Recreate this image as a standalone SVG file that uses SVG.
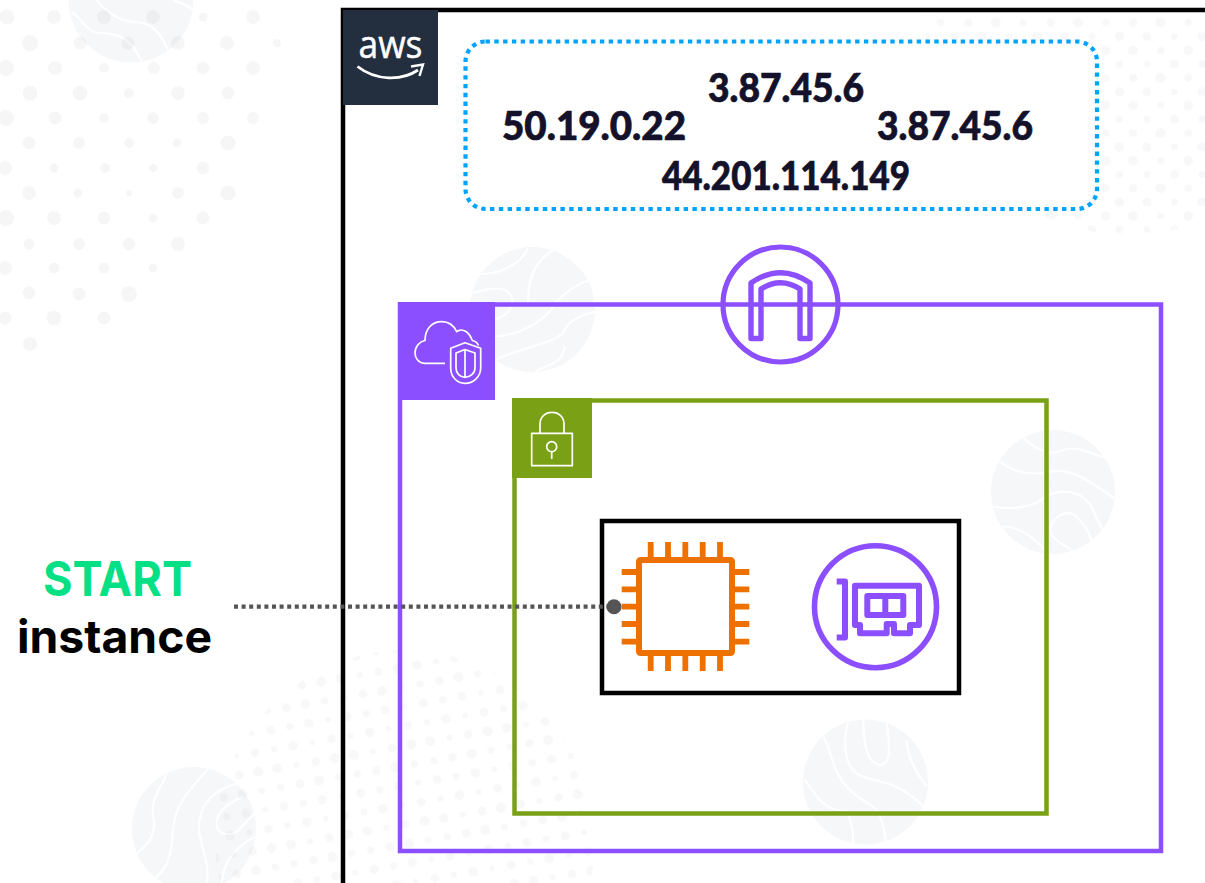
<svg xmlns="http://www.w3.org/2000/svg" width="1205" height="883" viewBox="0 0 1205 883">
<style>
.blob{fill:#f6f7f9}
.wave{fill:none;stroke:#fff;stroke-width:6.500}
.d{fill:#000;fill-opacity:.034}
.e{fill:#000;fill-opacity:.028}
.ip{font-family:"Lato","Liberation Sans",sans-serif;font-weight:900;font-size:40px;fill:#14112a;stroke:#14112a;stroke-width:.7;text-anchor:middle}
.lbl{font-family:"Inter","Liberation Sans",sans-serif;font-weight:700;text-anchor:middle}
.box{fill:none;stroke-width:4.500}
.ico{fill:none;stroke:#fff;stroke-width:1.700;stroke-linejoin:round}
.pin{stroke:#ed7100;stroke-width:5.800;fill:none}
.pur{fill:none;stroke:#8c4fff;stroke-linejoin:round}
</style>
<defs>
<clipPath id="cA"><circle cx="532.500" cy="309.500" r="62.500"/></clipPath>
<clipPath id="cB"><circle cx="1053" cy="492" r="62"/></clipPath>
<clipPath id="cC"><circle cx="865.500" cy="782" r="62.500"/></clipPath>
<clipPath id="cD"><circle cx="194" cy="829" r="62"/></clipPath>
<clipPath id="cE"><circle cx="131" cy="0" r="62.500"/></clipPath>
<clipPath id="cBottom"><circle cx="405" cy="840" r="190"/></clipPath>
<clipPath id="cTop"><path d="M900 13H1205V260H900Z"/></clipPath>
<clipPath id="cTop2"><circle cx="1130" cy="30" r="205"/></clipPath>
<pattern id="pBottom" width="77.600" height="77.600" patternUnits="userSpaceOnUse" patternTransform="translate(270.700 730) rotate(-10)">
<circle cx="0" cy="0" r="4.400" class="e"/><circle cx="19.400" cy="0" r="3.600" class="e"/><circle cx="38.800" cy="0" r="4.600" class="e"/><circle cx="58.200" cy="0" r="3" class="e"/><circle cx="77.600" cy="0" r="4.400" class="e"/>
<circle cx="0" cy="19.400" r="3.200" class="e"/><circle cx="19.400" cy="19.400" r="4.800" class="e"/><circle cx="38.800" cy="19.400" r="2.800" class="e"/><circle cx="58.200" cy="19.400" r="4.200" class="e"/><circle cx="77.600" cy="19.400" r="3.200" class="e"/>
<circle cx="0" cy="38.800" r="4.800" class="e"/><circle cx="19.400" cy="38.800" r="3" class="e"/><circle cx="38.800" cy="38.800" r="4.200" class="e"/><circle cx="58.200" cy="38.800" r="5" class="e"/><circle cx="77.600" cy="38.800" r="4.800" class="e"/>
<circle cx="0" cy="58.200" r="3.600" class="e"/><circle cx="19.400" cy="58.200" r="4.200" class="e"/><circle cx="38.800" cy="58.200" r="5" class="e"/><circle cx="58.200" cy="58.200" r="3.400" class="e"/><circle cx="77.600" cy="58.200" r="3.600" class="e"/>
<circle cx="0" cy="77.600" r="4.400" class="e"/><circle cx="19.400" cy="77.600" r="3.600" class="e"/><circle cx="38.800" cy="77.600" r="4.600" class="e"/><circle cx="58.200" cy="77.600" r="3" class="e"/><circle cx="77.600" cy="77.600" r="4.400" class="e"/>
</pattern>
<pattern id="pTop" width="82.500" height="55.200" patternUnits="userSpaceOnUse" patternTransform="translate(1050.700 22.700)">
<circle cx="0" cy="0" r="4" class="e"/><circle cx="27.500" cy="0" r="5" class="e"/><circle cx="55" cy="0" r="3.600" class="e"/><circle cx="82.500" cy="0" r="4" class="e"/>
<circle cx="13.750" cy="13.800" r="4.400" class="e"/><circle cx="41.250" cy="13.800" r="3.200" class="e"/><circle cx="68.750" cy="13.800" r="4.600" class="e"/>
<circle cx="0" cy="27.600" r="4.800" class="e"/><circle cx="27.500" cy="27.600" r="3.400" class="e"/><circle cx="55" cy="27.600" r="4.800" class="e"/><circle cx="82.500" cy="27.600" r="4.800" class="e"/>
<circle cx="13.750" cy="41.400" r="3.400" class="e"/><circle cx="41.250" cy="41.400" r="4.400" class="e"/><circle cx="68.750" cy="41.400" r="3.600" class="e"/>
<circle cx="0" cy="55.200" r="4" class="e"/><circle cx="27.500" cy="55.200" r="5" class="e"/><circle cx="55" cy="55.200" r="3.600" class="e"/><circle cx="82.500" cy="55.200" r="4" class="e"/>
</pattern>
</defs>
<rect width="1205" height="883" fill="#fff"/>
<g id="background">
<circle class="blob" cx="131" cy="0" r="62.500"/>
<g clip-path="url(#cE)"><g transform="scale(.3333)"><path class="wave" d="M290 0C330 50 370 65 420 68C470 75 490 120 505 150M215 35C250 60 260 100 310 100C370 100 400 130 425 185M520 0C540 10 570 15 582 35"/></g></g>
<circle class="blob" cx="532.500" cy="309.500" r="62.500"/>
<g clip-path="url(#cA)"><g transform="translate(395 240) scale(.3333)"><path class="wave" d="M230 100C300 110 370 80 400 25M400 190C395 110 430 45 490 25M225 160C270 150 330 130 350 170C360 210 320 240 280 240M490 180C530 140 560 125 590 120M300 290C360 285 440 260 490 180M300 360C380 320 490 310 510 270C520 240 560 225 600 215M420 395C470 370 500 370 510 320"/></g></g>
<circle class="blob" cx="1053" cy="492" r="62"/>
<g clip-path="url(#cB)"><g transform="translate(780 420) scale(.3333)"><path class="wave" d="M725 50C770 90 810 110 850 90C890 75 930 100 980 115M660 125C710 165 770 165 810 155C880 140 950 200 1003 235M640 260C700 270 760 260 790 235C840 200 910 210 940 270C950 300 965 320 970 335M810 330C815 290 860 265 890 290C910 310 930 340 935 365M810 330C815 360 860 380 885 395M665 320C710 315 760 350 800 395"/></g></g>
<circle class="blob" cx="865.500" cy="782" r="62.500"/>
<g clip-path="url(#cC)"><g transform="translate(780 420) scale(.3333)"><path class="wave" d="M130 950C160 1000 150 1050 210 1110C240 1140 270 1150 290 1170C310 1200 315 1240 318 1275M205 900C190 960 190 1030 230 1060C270 1090 350 1070 440 1170M250 900C250 970 260 1030 300 1035C340 1030 325 970 320 900M380 960C380 1010 410 1060 440 1100M75 1080C110 1130 130 1170 200 1175C220 1210 220 1250 220 1275"/></g></g>
<circle class="blob" cx="194" cy="829" r="62"/>
<g clip-path="url(#cD)"><g transform="translate(120 640) scale(.3333)"><path class="wave" d="M140 400C120 450 90 480 100 530C110 580 90 610 50 640M265 385C220 440 170 480 160 560C155 630 150 680 105 715M355 430C270 450 225 510 240 590C250 640 270 680 260 730M370 470C320 490 285 520 290 560C300 590 340 590 360 565C380 545 395 530 405 520M405 590C350 620 310 660 305 730"/></g></g>
<rect x="200" y="640" width="410" height="243" fill="url(#pBottom)" clip-path="url(#cBottom)"/>
<g clip-path="url(#cTop)"><g clip-path="url(#cTop2)"><rect x="900" y="13" width="305" height="247" fill="url(#pTop)"/></g></g>
<g>
<circle class="d" cx="30" cy="-8" r="6"/>
<circle class="d" cx="7" cy="17" r="7.500"/><circle class="d" cx="54" cy="17" r="7"/><circle class="d" cx="104" cy="17" r="7"/><circle class="d" cx="153" cy="17" r="7"/><circle class="d" cx="203" cy="17" r="4.500"/><circle class="d" cx="253" cy="17" r="7"/>
<circle class="d" cx="30" cy="43" r="8"/><circle class="d" cx="80" cy="43" r="6.500"/><circle class="d" cx="128" cy="43" r="6.500"/><circle class="d" cx="178" cy="43" r="7"/><circle class="d" cx="227" cy="43" r="7"/><circle class="d" cx="277" cy="43" r="4"/>
<circle class="d" cx="6" cy="68" r="8"/><circle class="d" cx="55" cy="68" r="7"/><circle class="d" cx="104" cy="68" r="5"/><circle class="d" cx="154" cy="68" r="6"/><circle class="d" cx="203" cy="68" r="6.500"/><circle class="d" cx="253" cy="68" r="7"/>
<circle class="d" cx="30" cy="93" r="7.500"/><circle class="d" cx="80" cy="93" r="7.500"/><circle class="d" cx="129" cy="93" r="5"/><circle class="d" cx="178" cy="93" r="7"/><circle class="d" cx="228" cy="93" r="6.500"/>
<circle class="d" cx="6" cy="118" r="8"/><circle class="d" cx="55" cy="118" r="6.500"/><circle class="d" cx="104" cy="118" r="5"/><circle class="d" cx="153" cy="118" r="6"/><circle class="d" cx="203" cy="118" r="6"/><circle class="d" cx="253" cy="118" r="6"/>
<circle class="d" cx="29" cy="143" r="6.500"/><circle class="d" cx="79" cy="143" r="6"/><circle class="d" cx="129" cy="143" r="5"/><circle class="d" cx="177" cy="143" r="4.500"/><circle class="d" cx="228" cy="143" r="7.500"/>
<circle class="d" cx="5" cy="168" r="7"/><circle class="d" cx="54" cy="168" r="4.500"/><circle class="d" cx="105" cy="168" r="5"/><circle class="d" cx="153" cy="168" r="4"/><circle class="d" cx="203" cy="168" r="6.500"/>
<circle class="d" cx="29" cy="193" r="7"/><circle class="d" cx="78" cy="193" r="4.500"/><circle class="d" cx="129" cy="193" r="3"/><circle class="d" cx="178" cy="193" r="6"/><circle class="d" cx="228" cy="193" r="7.500"/>
<circle class="d" cx="6" cy="218" r="8"/><circle class="d" cx="54" cy="218" r="7"/><circle class="d" cx="104" cy="218" r="6.500"/><circle class="d" cx="153" cy="218" r="4.500"/><circle class="d" cx="203" cy="218" r="6.500"/>
<circle class="d" cx="29" cy="244" r="5.500"/><circle class="d" cx="79" cy="244" r="6"/><circle class="d" cx="129" cy="244" r="6.500"/><circle class="d" cx="178" cy="244" r="7"/>
<circle class="d" cx="5" cy="268" r="7"/><circle class="d" cx="54" cy="268" r="5.500"/><circle class="d" cx="104" cy="268" r="5.500"/><circle class="d" cx="153" cy="268" r="4.500"/>
<circle class="d" cx="29" cy="293" r="6.500"/><circle class="d" cx="79" cy="294" r="6.500"/><circle class="d" cx="129" cy="294" r="8"/>
<circle class="d" cx="5" cy="318" r="6.500"/><circle class="d" cx="54" cy="318" r="7.500"/><circle class="d" cx="104" cy="318" r="6.500"/>
<circle class="d" cx="30" cy="344" r="7"/>
</g>
</g>

<g id="aws-cloud">
<path d="M343 883V10H1205" fill="none" stroke="#000" stroke-width="4.500"/>
<rect x="343" y="10" width="95" height="95" fill="#232f3e"/>
<text x="390.500" y="58" font-family="'Open Sans','Liberation Sans',sans-serif" font-size="38" fill="#fff" stroke="#fff" stroke-width=".5" text-anchor="middle" textLength="64" lengthAdjust="spacingAndGlyphs">aws</text>
<path d="M357.500 66.500C376 81 402 81 418 70" fill="none" stroke="#fff" stroke-width="2.800"/>
<path d="M411 66.500L423 64.500L419.500 76" fill="none" stroke="#fff" stroke-width="2.400"/>
</g>

<g id="public-ips">
<rect x="465.500" y="41.500" width="631.500" height="167.500" rx="20" fill="#fff" stroke="#00a4ff" stroke-width="4.200" stroke-dasharray="4.400 4.400"/>
<text class="ip" x="786" y="102" textLength="156" lengthAdjust="spacingAndGlyphs">3.87.45.6</text>
<text class="ip" x="594" y="140" textLength="184" lengthAdjust="spacingAndGlyphs">50.19.0.22</text>
<text class="ip" x="955" y="140" textLength="156" lengthAdjust="spacingAndGlyphs">3.87.45.6</text>
<text class="ip" x="786" y="190" textLength="248" lengthAdjust="spacingAndGlyphs">44.201.114.149</text>
</g>

<g id="vpc">
<rect class="box" x="400" y="304.500" width="761" height="546.500" stroke="#8c4fff"/>
<rect x="398" y="302" width="97" height="98" fill="#8c4fff"/>
<path class="ico" d="M445 363.300H425C419 363.300 415 358.500 415 353C415 346.500 419.500 341.500 425 340.500C425 329 432 321.700 441.700 321.700C449 321.700 454 326 456.700 331.700C459 329.500 463 329.500 466 331.500C469.500 334 471 337 472.300 340.500C475 341 477.500 343 478.500 345.500"/>
<path class="ico" d="M465 342.700L450.700 348.300V368C450.700 377 457 383.300 465 383.300C473 383.300 480.700 377 480.700 368V348.300Z"/>
<path class="ico" d="M465 349.500L456 353V368C456 373.500 460 377.300 465 377.300C470 377.300 475 373.500 475 368V353ZM465 350V377"/>
</g>

<g id="internet-gateway">
<circle class="pur" cx="780.500" cy="304.500" r="57.500" stroke-width="5.200"/>
<path class="pur" stroke-width="5.400" d="M751 338.500V283Q780.500 262.400 810 283V338.500H800V289Q780.500 276.400 761 289V338.500Z"/>
</g>

<g id="subnet">
<rect class="box" x="514.500" y="400.500" width="532" height="413" stroke="#7aa116"/>
<rect x="512" y="398" width="80" height="80" fill="#7aa116"/>
<rect class="ico" x="531.700" y="433.300" width="40.600" height="32.400"/>
<path class="ico" d="M540 433.300V424C540 417 545 412.300 552 412.300C559 412.300 564 417 564 424V433.300"/>
<circle class="ico" cx="551.700" cy="446.700" r="5"/>
<path class="ico" d="M551.700 451.700V459"/>
</g>

<g id="instance">
<rect x="602" y="521" width="357" height="172" fill="#fff" stroke="#000" stroke-width="4.500"/>
<g id="ec2-chip">
<rect x="639" y="560" width="93" height="93" rx="1.500" fill="none" stroke="#ed7100" stroke-width="6" stroke-linejoin="round"/>
<path class="pin" d="M650.700 542V557M668 542V557M685.300 542V557M702.700 542V557M720 542V557M650.700 656V671M668 656V671M685.300 656V671M702.700 656V671M720 656V671M621.700 572H636M621.700 589.300H636M621.700 606.700H636M621.700 624H636M621.700 641.700H636M735 572H749.300M735 589.300H749.300M735 606.700H749.300M735 624H749.300M735 641.700H749.300"/>
</g>
<g id="network-interface">
<circle class="pur" cx="875.500" cy="606.700" r="61" stroke-width="5.600"/>
<path class="pur" stroke-width="6" d="M836.700 581.500H845V637.500H836.700"/>
<path class="pur" stroke-width="6" d="M855 625V585.700H919V625H910V633.300H894V624H886.700V633.300H860V625Z"/>
<rect class="pur" stroke-width="6" x="867.300" y="596" width="36" height="19"/>
<path class="pur" stroke-width="6" d="M885.300 596V615"/>
</g>
</g>

<g id="connectors">
<path d="M234 606.700H614" fill="none" stroke="#555" stroke-width="4.200" stroke-dasharray="4 3.600"/>
<circle cx="614" cy="606.700" r="7.500" fill="#555"/>
</g>

<g id="start-label">
<text class="lbl" x="117.500" y="596" font-size="48" fill="#05e085" textLength="149" lengthAdjust="spacingAndGlyphs">START</text>
<text class="lbl" x="114.500" y="653" font-size="46" fill="#000" textLength="195" lengthAdjust="spacingAndGlyphs">instance</text>
</g>
</svg>
